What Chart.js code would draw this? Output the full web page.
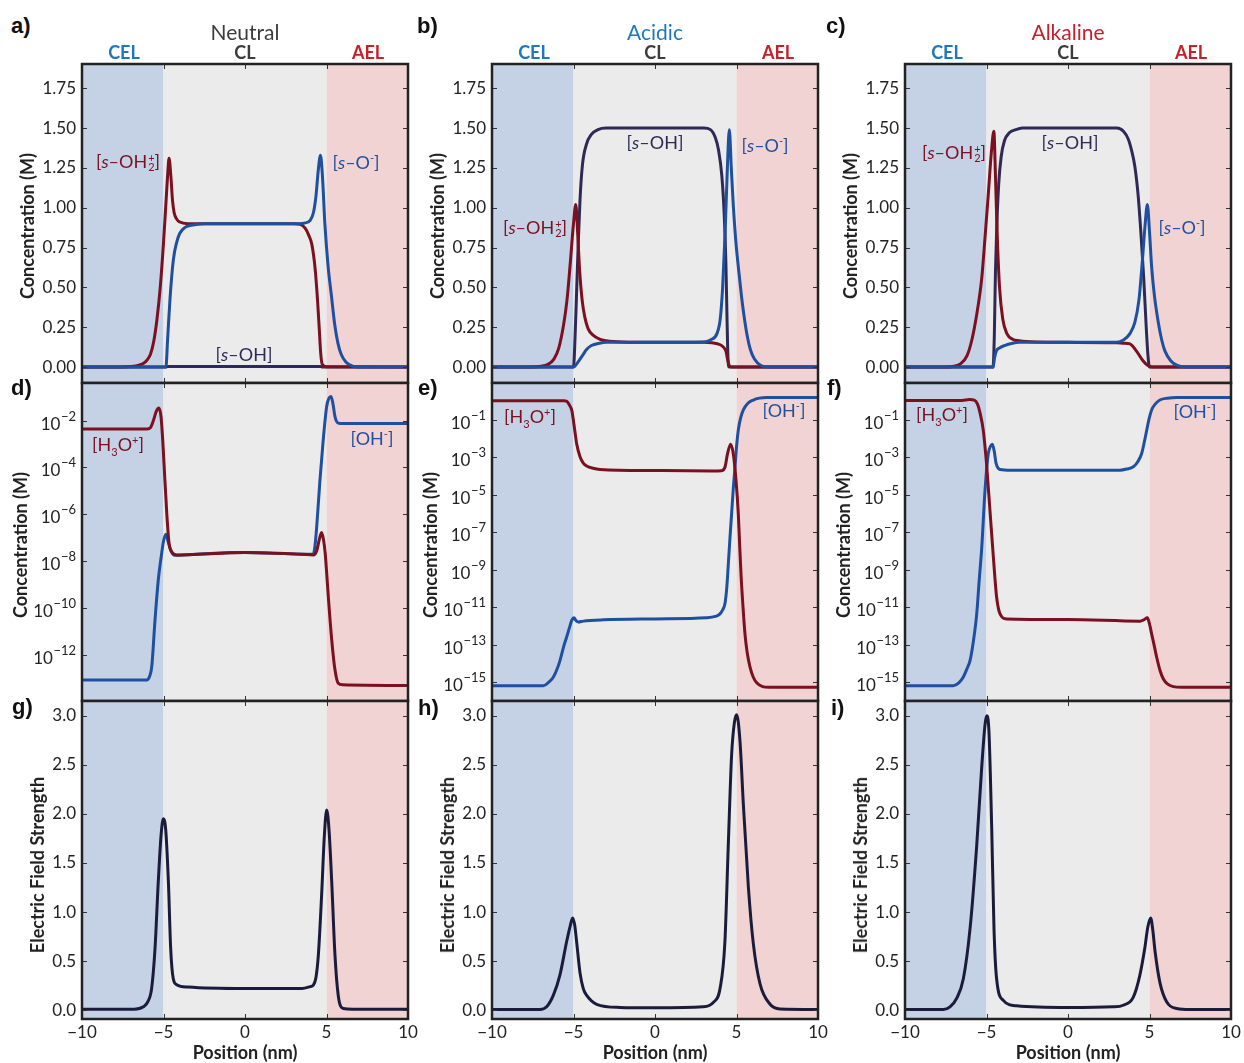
<!DOCTYPE html>
<html>
<head>
<meta charset="utf-8">
<title>Surface sites, ions and field across CEL / CL / AEL</title>
<script src="https://cdn.jsdelivr.net/npm/chart.js@4.4.1/dist/chart.umd.min.js"></script>
<style>
  body { margin: 0; background: #fff; font-family: Lato, sans-serif; }
  #fig { position: relative; width: 1244px; height: 1063px; overflow: hidden; }
  #fig canvas { position: absolute; z-index: 1; }
  .t { position: absolute; z-index: 5; transform: translate(-50%, -50%); white-space: nowrap; line-height: 1; }
  .letter { position: absolute; z-index: 5; font: bold 22px "Liberation Sans", Arial, sans-serif; color: #111; line-height: 1; }
  .cond { font-size: 21px; color: #3c3c3c; }
  .zone { font-size: 18px; font-weight: bold; }
  .ylab { position: absolute; z-index: 5; transform: translate(-50%, -50%) rotate(-90deg); font-size: 18px; font-weight: bold; color: #222; white-space: nowrap; line-height: 1; }
  .xlab { font-size: 18px; font-weight: bold; color: #222; }
  .sp { font-size: 18px; }
  .stk { display: inline-block; vertical-align: -0.3em; font-size: 11px; line-height: 9px; margin-left: 1px; }
  .stk span { display: block; }
  sup, sub { font-size: 11px; line-height: 0; }
  .red { color: #7b1020; } .blue { color: #1f4f9f; } .navy { color: #2e2a55; }
  .cel { color: #1f78be; } .ael { color: #c8202a; } .cl { color: #3c3c3c; }
</style>
</head>
<body>
<div id="fig">
  <!-- panel letters -->
  <div class="letter" style="left:11px;top:15px">a)</div>
  <div class="letter" style="left:417px;top:15px">b)</div>
  <div class="letter" style="left:826px;top:15px">c)</div>
  <div class="letter" style="left:11px;top:377px">d)</div>
  <div class="letter" style="left:418px;top:377px">e)</div>
  <div class="letter" style="left:827px;top:377px">f)</div>
  <div class="letter" style="left:12px;top:696px">g)</div>
  <div class="letter" style="left:418px;top:697px">h)</div>
  <div class="letter" style="left:831px;top:697px">i)</div>

  <!-- column headers -->
  <div class="t cond" style="left:245px;top:31px">Neutral</div>
  <div class="t cond cel" style="left:655px;top:31px">Acidic</div>
  <div class="t cond ael" style="left:1068px;top:31px">Alkaline</div>
  <div class="t zone cel" style="left:124px;top:52px">CEL</div>
  <div class="t zone cl" style="left:245px;top:52px">CL</div>
  <div class="t zone ael" style="left:368px;top:52px">AEL</div>
  <div class="t zone cel" style="left:534px;top:52px">CEL</div>
  <div class="t zone cl" style="left:655px;top:52px">CL</div>
  <div class="t zone ael" style="left:778px;top:52px">AEL</div>
  <div class="t zone cel" style="left:947px;top:52px">CEL</div>
  <div class="t zone cl" style="left:1068px;top:52px">CL</div>
  <div class="t zone ael" style="left:1191px;top:52px">AEL</div>

  <!-- axis titles -->
  <div class="ylab" style="left:27px;top:226px">Concentration (M)</div>
  <div class="ylab" style="left:437px;top:226px">Concentration (M)</div>
  <div class="ylab" style="left:850px;top:226px">Concentration (M)</div>
  <div class="ylab" style="left:20px;top:545px">Concentration (M)</div>
  <div class="ylab" style="left:430px;top:545px">Concentration (M)</div>
  <div class="ylab" style="left:843px;top:545px">Concentration (M)</div>
  <div class="ylab" style="left:37px;top:865px">Electric Field Strength</div>
  <div class="ylab" style="left:447px;top:865px">Electric Field Strength</div>
  <div class="ylab" style="left:860px;top:865px">Electric Field Strength</div>
  <div class="t xlab" style="left:245px;top:1052px">Position (nm)</div>
  <div class="t xlab" style="left:655px;top:1052px">Position (nm)</div>
  <div class="t xlab" style="left:1068px;top:1052px">Position (nm)</div>

  <!-- curve labels -->
  <div class="t sp red" style="left:128px;top:162px">[<i>s</i>–OH<span class="stk"><span>+</span><span>2</span></span>]</div>
  <div class="t sp blue" style="left:356px;top:162px">[<i>s</i>–O<sup>-</sup>]</div>
  <div class="t sp navy" style="left:244px;top:354px">[<i>s</i>–OH]</div>
  <div class="t sp red" style="left:535px;top:228px">[<i>s</i>–OH<span class="stk"><span>+</span><span>2</span></span>]</div>
  <div class="t sp navy" style="left:655px;top:142px">[<i>s</i>–OH]</div>
  <div class="t sp blue" style="left:765px;top:145px">[<i>s</i>–O<sup>-</sup>]</div>
  <div class="t sp red" style="left:954px;top:153px">[<i>s</i>–OH<span class="stk"><span>+</span><span>2</span></span>]</div>
  <div class="t sp navy" style="left:1070px;top:142px">[<i>s</i>–OH]</div>
  <div class="t sp blue" style="left:1182px;top:227px">[<i>s</i>–O<sup>-</sup>]</div>
  <div class="t sp red" style="left:118px;top:444px">[H<sub>3</sub>O<sup>+</sup>]</div>
  <div class="t sp blue" style="left:372px;top:438px">[OH<sup>-</sup>]</div>
  <div class="t sp red" style="left:530px;top:416px">[H<sub>3</sub>O<sup>+</sup>]</div>
  <div class="t sp blue" style="left:784px;top:410px">[OH<sup>-</sup>]</div>
  <div class="t sp red" style="left:942px;top:414px">[H<sub>3</sub>O<sup>+</sup>]</div>
  <div class="t sp blue" style="left:1195px;top:411px">[OH<sup>-</sup>]</div>
</div>

<script>
// ───── shared axes ─────
const zoneEdges  = [-10, -5, 5, 10];
const zoneColors = ['#c5d2e6', '#ebebeb', '#f1d3d3'];
const xTicks     = [-10, -5, 0, 5, 10];
const concTicks  = [0, 0.25, 0.5, 0.75, 1.0, 1.25, 1.5, 1.75];
const fieldTicks = [0, 0.5, 1.0, 1.5, 2.0, 2.5, 3.0];
const evenExpTicks = [-12, -10, -8, -6, -4, -2];          // log10 (M), panel d
const oddExpTicks  = [-15, -13, -11, -9, -7, -5, -3, -1]; // log10 (M), panels e, f

const RED = '#7b1020', BLUE = '#1f4f9f', NAVY = '#2e2a55', FIELD = '#1b1c3c';

// ───── a) neutral : surface sites (M) ─────
const aOHx = [-10, -4.85, -4.75, 4.65, 4.75, 10];
const aOHy = [0, 0, 0.004, 0.004, 0, 0];
const aOH2x = [-10, -7.5, -7, -6.5, -6.2, -6, -5.8, -5.6, -5.4, -5.2, -5, -4.85, -4.75, -4.66, -4.55, -4.45, -4.35, -4.2, -4, -3.5, 0, 3, 3.4, 3.7, 3.9, 4.1, 4.3, 4.45, 4.55, 4.65, 4.75, 5, 10];
const aOH2y = [0, 0, 0.003, 0.012, 0.025, 0.045, 0.08, 0.16, 0.3, 0.5, 0.78, 1.03, 1.2, 1.31, 1.2, 1.05, 0.97, 0.93, 0.91, 0.9, 0.9, 0.9, 0.895, 0.87, 0.83, 0.77, 0.62, 0.42, 0.25, 0.08, 0.015, 0.002, 0];
const aOx = [-10, -4.85, -4.75, -4.6, -4.4, -4.2, -4, -3.7, -3.3, -2.5, 0, 3.3, 3.7, 4, 4.2, 4.35, 4.5, 4.63, 4.75, 4.9, 5.1, 5.3, 5.5, 5.7, 5.9, 6.2, 6.6, 7, 10];
const aOy = [0, 0, 0.17, 0.43, 0.67, 0.78, 0.84, 0.875, 0.89, 0.9, 0.9, 0.9, 0.905, 0.92, 0.97, 1.07, 1.24, 1.33, 1.2, 0.9, 0.63, 0.45, 0.27, 0.15, 0.08, 0.03, 0.006, 0.001, 0];

// ───── b) acidic ─────
const bOHx = [-10, -5, -4.9, -4.8, -4.7, -4.6, -4.45, -4.2, -3.9, -3.5, -3, 0, 3, 3.4, 3.7, 3.9, 4.1, 4.25, 4.35, 4.42, 4.48, 4.55, 10];
const bOHy = [0, 0, 0.2, 0.5, 0.8, 1.05, 1.27, 1.4, 1.46, 1.49, 1.5, 1.5, 1.5, 1.49, 1.44, 1.36, 1.2, 0.95, 0.65, 0.3, 0.05, 0, 0];
const bOH2x = [-10, -7.5, -7, -6.6, -6.2, -5.9, -5.6, -5.4, -5.2, -5, -4.86, -4.75, -4.62, -4.47, -4.3, -4.1, -3.8, -3.4, -3, -2, 0, 3, 3.5, 4, 4.2, 4.35, 4.45, 4.55, 4.7, 10];
const bOH2y = [0, 0, 0.005, 0.015, 0.05, 0.12, 0.27, 0.42, 0.65, 0.9, 1.02, 0.85, 0.6, 0.42, 0.31, 0.24, 0.2, 0.175, 0.165, 0.157, 0.155, 0.155, 0.152, 0.14, 0.125, 0.1, 0.05, 0.01, 0, 0];
const bOx = [-10, -5, -4.8, -4.6, -4.4, -4.2, -3.9, -3.4, -3, 0, 3, 3.4, 3.8, 4, 4.15, 4.3, 4.44, 4.56, 4.68, 4.8, 4.95, 5.11, 5.3, 5.45, 5.65, 5.85, 6.1, 6.5, 7, 10];
const bOy = [0, 0, 0.02, 0.05, 0.08, 0.11, 0.135, 0.15, 0.155, 0.155, 0.157, 0.17, 0.21, 0.3, 0.5, 0.84, 1.25, 1.49, 1.25, 1.02, 0.8, 0.63, 0.45, 0.33, 0.2, 0.11, 0.05, 0.01, 0.001, 0];

// ───── c) alkaline ─────
const cOHx = [-10, -4.6, -4.52, -4.45, -4.37, -4.25, -4.1, -3.9, -3.6, -3.2, -2.8, 0, 3, 3.4, 3.7, 3.9, 4.1, 4.3, 4.5, 4.65, 4.8, 4.9, 5, 10];
const cOHy = [0, 0, 0.2, 0.6, 0.88, 1.15, 1.32, 1.42, 1.47, 1.49, 1.5, 1.5, 1.5, 1.48, 1.43, 1.36, 1.26, 1.08, 0.8, 0.55, 0.25, 0.08, 0, 0];
const cOH2x = [-10, -7.5, -7, -6.6, -6.2, -5.9, -5.6, -5.3, -5.1, -4.9, -4.7, -4.55, -4.45, -4.35, -4.2, -4, -3.75, -3.4, -3, -2, 0, 3, 3.4, 3.8, 4.2, 4.6, 4.9, 5.2, 10];
const cOH2y = [0, 0, 0.005, 0.02, 0.07, 0.17, 0.33, 0.55, 0.8, 1.07, 1.35, 1.48, 1.2, 0.85, 0.5, 0.3, 0.21, 0.175, 0.165, 0.157, 0.155, 0.153, 0.15, 0.145, 0.1, 0.04, 0.01, 0, 0];
const cOx = [-10, -4.6, -4.5, -4.4, -4.2, -3.9, -3.4, -3, 0, 3, 3.4, 3.8, 4.1, 4.35, 4.55, 4.72, 4.87, 5, 5.13, 5.3, 5.54, 5.75, 5.95, 6.3, 6.7, 7.2, 10];
const cOy = [0, 0, 0.06, 0.1, 0.12, 0.135, 0.15, 0.155, 0.155, 0.156, 0.17, 0.21, 0.28, 0.42, 0.65, 0.88, 1.02, 0.85, 0.63, 0.45, 0.28, 0.17, 0.1, 0.04, 0.01, 0.001, 0];

// ───── d–f) free ions, log10 of concentration (M) ─────
const dH3Ox = [-10, -6, -5.8, -5.62, -5.45, -5.28, -5.15, -5.05, -4.97, -4.8, -4.66, -4.5, -4.2, -3.5, 0, 3.5, 4.19, 4.4, 4.55, 4.7, 4.82, 4.92, 5.01, 5.11, 5.32, 5.52, 5.72, 6, 10];
const dH3Oy = [-2.36, -2.36, -2.3, -2, -1.62, -1.47, -1.85, -2.8, -3.82, -5.95, -7.23, -7.59, -7.73, -7.72, -7.63, -7.7, -7.73, -7.55, -7.1, -6.78, -7.1, -7.66, -8.5, -9.5, -11.35, -12.63, -13.2, -13.27, -13.3];
const dOHx = [-10, -6.03, -5.85, -5.72, -5.52, -5.32, -5.1, -5, -4.85, -4.7, -4.55, -4.3, -3.5, 0, 3.5, 4.19, 4.3, 4.4, 4.6, 4.8, 5.01, 5.15, 5.28, 5.4, 5.52, 5.72, 6, 10];
const dOHy = [-13.06, -13.06, -12.9, -12.49, -10.5, -8.8, -7.6, -7.15, -6.85, -7.2, -7.55, -7.75, -7.72, -7.63, -7.7, -7.7, -7.3, -6.52, -4.53, -2.82, -1.4, -1.05, -0.98, -1.3, -1.83, -2.11, -2.13, -2.13];

const eH3Ox = [-10, -5.6, -5.42, -5.25, -5.1, -5.01, -4.9, -4.81, -4.6, -4.4, -4.19, -3.8, -3.37, 0, 3.5, 4.09, 4.3, 4.45, 4.64, 4.8, 4.97, 5.11, 5.2, 5.28, 5.4, 5.52, 5.65, 5.83, 6.03, 6.24, 6.6, 7, 10];
const eH3Oy = [0.036, 0.036, 0, -0.2, -0.5, -1, -1.7, -2.25, -2.96, -3.3, -3.46, -3.58, -3.64, -3.7, -3.72, -3.71, -3.5, -2.8, -2.29, -2.79, -4.21, -6, -7.8, -9.3, -11, -12.43, -13.4, -14.21, -14.75, -15.05, -15.25, -15.29, -15.29];
const eOHx = [-10, -6.85, -6.5, -6.24, -6, -5.83, -5.6, -5.42, -5.25, -5.11, -4.97, -4.85, -4.7, -4.4, -3.17, 0, 3.17, 3.7, 3.99, 4.15, 4.29, 4.4, 4.5, 4.6, 4.7, 4.8, 4.91, 5, 5.11, 5.25, 5.42, 5.7, 6.03, 6.4, 6.85, 10];
const eOHy = [-15.2, -15.2, -15, -14.75, -14.3, -13.86, -13.1, -12.6, -12.1, -11.71, -11.57, -11.72, -11.8, -11.75, -11.68, -11.63, -11.57, -11.5, -11.36, -11.15, -10.82, -10, -8.68, -7.3, -6, -4.7, -3.5, -2.45, -1.54, -0.9, -0.46, -0.1, 0.07, 0.17, 0.21, 0.21];

const fH3Ox = [-10, -6.5, -6.05, -5.75, -5.55, -5.4, -5.2, -5, -4.79, -4.58, -4.38, -4.17, -3.76, 0, 4.42, 4.65, 4.87, 5, 5.13, 5.3, 5.44, 5.65, 5.85, 6.1, 6.46, 7, 10];
const fH3Oy = [0.04, 0.05, 0.1, 0.06, -0.15, -0.6, -1.54, -3.32, -5.82, -8.32, -10.46, -11.36, -11.63, -11.66, -11.75, -11.68, -11.57, -11.9, -12.43, -13.1, -13.68, -14.4, -14.84, -15.1, -15.25, -15.29, -15.29];
const fOHx = [-10, -7.04, -6.7, -6.43, -6.2, -6.01, -5.8, -5.6, -5.45, -5.29, -5.09, -4.89, -4.75, -4.64, -4.52, -4.41, -4.17, -3.5, 0, 3.19, 3.6, 4.01, 4.3, 4.52, 4.7, 4.83, 4.97, 5.13, 5.35, 5.64, 6.1, 6.67, 10];
const fOHy = [-15.2, -15.2, -15.05, -14.75, -14.3, -13.86, -12.8, -11.36, -9.6, -7.79, -4.75, -2.79, -2.4, -2.29, -2.7, -3.32, -3.64, -3.68, -3.68, -3.68, -3.62, -3.5, -3.2, -2.79, -2.1, -1.54, -0.95, -0.46, -0.15, 0.07, 0.17, 0.21, 0.21];

// ───── g–i) electric field strength ─────
const gx = [-10, -6.8, -6.24, -5.95, -5.73, -5.52, -5.32, -5.15, -5.01, -4.87, -4.7, -4.56, -4.4, -4.19, -3.5, 0, 3.5, 4, 4.19, 4.35, 4.5, 4.7, 4.87, 5.01, 5.15, 5.32, 5.52, 5.72, 6.03, 6.6, 10];
const gy = [0.01, 0.01, 0.034, 0.09, 0.22, 0.63, 1.31, 1.78, 1.95, 1.85, 1.31, 0.63, 0.32, 0.26, 0.235, 0.22, 0.22, 0.24, 0.255, 0.33, 0.56, 1.17, 1.78, 2.04, 1.85, 1.31, 0.56, 0.15, 0.017, 0.01, 0.01];
const hx = [-10, -7.06, -6.65, -6.24, -5.83, -5.42, -5.2, -5.05, -4.92, -4.81, -4.6, -4.4, -4.19, -3.58, -2.15, 0, 2.96, 3.58, 3.99, 4.29, 4.5, 4.7, 4.87, 5.01, 5.21, 5.42, 5.73, 6.03, 6.44, 7.06, 7.67, 10];
const hy = [0.007, 0.007, 0.034, 0.15, 0.36, 0.7, 0.86, 0.94, 0.86, 0.7, 0.38, 0.22, 0.15, 0.06, 0.028, 0.024, 0.034, 0.08, 0.22, 0.7, 1.7, 2.6, 2.93, 3.01, 2.75, 2.1, 1.25, 0.68, 0.27, 0.06, 0.012, 0.007];
const ix = [-10, -7.65, -7.24, -6.83, -6.42, -6.01, -5.6, -5.3, -5.09, -4.99, -4.85, -4.68, -4.54, -4.38, -3.97, -3.15, 0, 2.78, 3.39, 4, 4.4, 4.7, 4.9, 5.07, 5.2, 5.34, 5.64, 6.05, 6.67, 7.5, 10];
const iy = [0.007, 0.007, 0.034, 0.12, 0.32, 0.83, 1.68, 2.46, 2.91, 3, 2.84, 1.85, 0.83, 0.32, 0.1, 0.044, 0.027, 0.034, 0.05, 0.13, 0.35, 0.62, 0.85, 0.94, 0.82, 0.6, 0.28, 0.085, 0.017, 0.007, 0.007];

// ───── layout ─────
const colLeft = [82, 492, 905];
const rowTop = [64, 383, 701];
const rowBottom = [383, 701, 1019];
const PLOT_W = 326, AXIS_W = 80, PAD = 22, X_AXIS_H = 30;

const rowConc  = { min: -0.1, max: 1.902, ticks: concTicks, fmt: v => v.toFixed(2) };
const rowField = { min: -0.09, max: 3.15, ticks: fieldTicks, fmt: v => v.toFixed(1) };
const logD  = { min: -13.96, max: -0.4, ticks: evenExpTicks, log: true };
const logEF = { min: -16.02, max: 0.98, ticks: oddExpTicks, log: true };

Chart.defaults.font.family = 'Lato';

// shaded membrane zones, inward ticks, frame, 10^n labels
const frameMarks = {
  id: 'frameMarks',
  beforeDatasetsDraw(chart) {
    const { ctx, chartArea: a, scales: { x } } = chart;
    ctx.save();
    zoneColors.forEach((c, i) => {
      const x0 = x.getPixelForValue(zoneEdges[i]);
      const x1 = x.getPixelForValue(zoneEdges[i + 1]);
      ctx.fillStyle = c;
      ctx.fillRect(x0, a.top, x1 - x0, a.bottom - a.top);
    });
    ctx.restore();
  },
  afterDatasetsDraw(chart, args, opts) {
    const { ctx, chartArea: a, scales: { x, y } } = chart;
    ctx.save();
    ctx.strokeStyle = '#333';
    ctx.lineWidth = 1;
    ctx.beginPath();
    opts.yTicks.forEach(v => {
      const py = Math.round(y.getPixelForValue(v)) + 0.5;
      ctx.moveTo(a.left, py); ctx.lineTo(a.left + 5, py);
      ctx.moveTo(a.right, py); ctx.lineTo(a.right - 5, py);
    });
    xTicks.forEach(v => {
      const px = Math.round(x.getPixelForValue(v)) + 0.5;
      ctx.moveTo(px, a.top); ctx.lineTo(px, a.top + 5);
      ctx.moveTo(px, a.bottom); ctx.lineTo(px, a.bottom - 5);
    });
    ctx.stroke();
    ctx.lineWidth = 2.5;
    ctx.strokeStyle = '#222';
    ctx.strokeRect(a.left, a.top, a.right - a.left, a.bottom - a.top);

    if (opts.log) {
      ctx.fillStyle = '#222';
      ctx.textAlign = 'right';
      ctx.textBaseline = 'alphabetic';
      opts.yTicks.forEach(n => {
        const py = y.getPixelForValue(n);
        const exp = '\u2212' + Math.abs(n);
        const right = a.left - 6;
        ctx.font = '13px Lato';
        const ew = ctx.measureText(exp).width;
        ctx.fillText(exp, right, py);
        ctx.font = '17px Lato';
        ctx.fillText('10', right - ew - 0.5, py + 9);
      });
    }
    ctx.restore();
  }
};

function series(xs, ys) {
  return xs.map((x, i) => ({ x, y: ys[i] }));
}

function line(xs, ys, color) {
  return {
    data: series(xs, ys),
    borderColor: color,
    borderWidth: 3,
    pointRadius: 0,
    fill: false,
    cubicInterpolationMode: 'monotone',
    borderJoinStyle: 'round',
    borderCapStyle: 'round'
  };
}

// first dataset is drawn on top
const panels = [
  { col: 0, row: 0, y: rowConc, lines: [line(aOx, aOy, BLUE), line(aOH2x, aOH2y, RED), line(aOHx, aOHy, NAVY)] },
  { col: 1, row: 0, y: rowConc, lines: [line(bOx, bOy, BLUE), line(bOH2x, bOH2y, RED), line(bOHx, bOHy, NAVY)] },
  { col: 2, row: 0, y: rowConc, lines: [line(cOx, cOy, BLUE), line(cOH2x, cOH2y, RED), line(cOHx, cOHy, NAVY)] },
  { col: 0, row: 1, y: logD,  lines: [line(dH3Ox, dH3Oy, RED), line(dOHx, dOHy, BLUE)] },
  { col: 1, row: 1, y: logEF, lines: [line(eH3Ox, eH3Oy, RED), line(eOHx, eOHy, BLUE)] },
  { col: 2, row: 1, y: logEF, lines: [line(fH3Ox, fH3Oy, RED), line(fOHx, fOHy, BLUE)] },
  { col: 0, row: 2, y: rowField, lines: [line(gx, gy, FIELD)] },
  { col: 1, row: 2, y: rowField, lines: [line(hx, hy, FIELD)] },
  { col: 2, row: 2, y: rowField, lines: [line(ix, iy, FIELD)] }
];

const fig = document.getElementById('fig');

panels.forEach(p => {
  const bottomRow = p.row === 2;
  const canvas = document.createElement('canvas');
  canvas.width = AXIS_W + PLOT_W + PAD;
  canvas.height = PAD + (rowBottom[p.row] - rowTop[p.row]) + (bottomRow ? X_AXIS_H : PAD);
  canvas.style.left = (colLeft[p.col] - AXIS_W) + 'px';
  canvas.style.top = (rowTop[p.row] - PAD) + 'px';
  fig.appendChild(canvas);

  new Chart(canvas, {
    type: 'line',
    data: { datasets: p.lines },
    plugins: [frameMarks],
    options: {
      responsive: false,
      animation: false,
      events: [],
      layout: { padding: { top: PAD, right: PAD, left: 0, bottom: bottomRow ? 0 : PAD } },
      plugins: {
        legend: { display: false },
        tooltip: { enabled: false },
        frameMarks: { yTicks: p.y.ticks, log: !!p.y.log }
      },
      scales: {
        x: {
          type: 'linear', min: -10, max: 10,
          display: bottomRow,
          afterBuildTicks: s => { s.ticks = xTicks.map(v => ({ value: v })); },
          afterFit: bottomRow ? (s => { s.height = X_AXIS_H; }) : undefined,
          grid: { display: false, drawTicks: false },
          border: { display: false },
          ticks: {
            autoSkip: false, maxRotation: 0, padding: 3,
            color: '#222', font: { size: 17 },
            callback: v => v < 0 ? '\u2212' + Math.abs(v) : String(v)
          }
        },
        y: {
          type: 'linear', min: p.y.min, max: p.y.max,
          afterBuildTicks: s => { s.ticks = p.y.ticks.map(v => ({ value: v })); },
          afterFit: s => { s.width = AXIS_W; },
          grid: { display: false, drawTicks: false },
          border: { display: false },
          ticks: {
            display: !p.y.log, padding: 6,
            color: '#222', font: { size: 17 },
            callback: p.y.fmt
          }
        }
      }
    }
  });
});
</script>
</body>
</html>
